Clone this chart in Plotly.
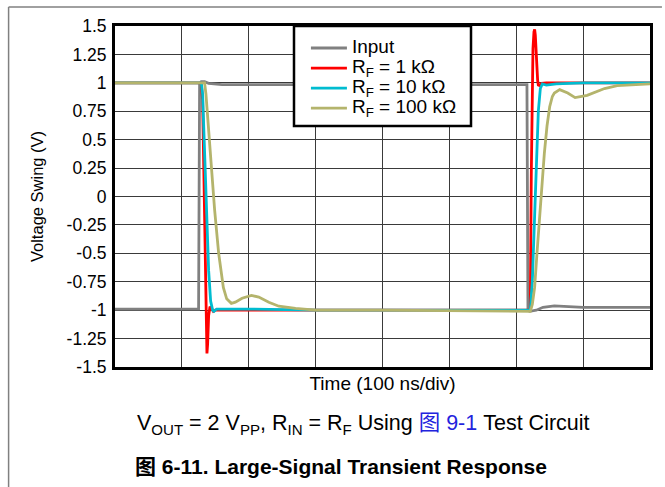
import plotly.graph_objects as go

# ---- data (time in ns, voltage in V) ----
input_t = [0, 125, 126.5, 129, 134, 140, 160, 200, 300, 400, 500, 616, 617.5, 620, 630, 640, 657, 680, 700, 800]
input_v = [-0.99, -0.99, 0.99, 1.01, 1.01, 0.995, 0.985, 0.985, 0.985, 0.985, 0.985, 0.985, -1.0, -1.01, -1.0, -0.975, -0.962, -0.97, -0.975, -0.975]

rf1k_t = [0, 129, 131, 133, 135, 136.5, 137.5, 138.5, 140, 142, 144, 147, 150, 160, 200, 400, 616, 621, 622.5, 623.5, 625, 626.5, 627.5, 628.5, 630, 632, 633, 635, 638, 645, 700, 800]
rf1k_v = [1.0, 1.0, 0.85, 0.2, -0.7, -1.2, -1.38, -1.3, -1.05, -0.97, -0.98, -1.01, -1.0, -1.0, -1.0, -1.0, -1.0, -1.0, 0.2, 1.0, 1.3, 1.45, 1.47, 1.42, 1.2, 1.02, 0.98, 0.975, 0.995, 1.0, 1.0, 1.0]

rf10k_t = [0, 129, 131, 134, 137, 140, 143, 146, 148, 152, 170, 200, 300, 616, 621, 624, 627, 630, 633, 636, 639, 645, 660, 700, 800]
rf10k_v = [1.0, 1.0, 0.9, 0.4, -0.2, -0.65, -0.92, -1.0, -1.01, -0.99, -0.99, -0.99, -1.0, -1.0, -1.0, -0.75, -0.25, 0.3, 0.75, 0.95, 0.99, 0.98, 0.99, 1.0, 1.0]

rf100k_t = [0, 134, 136, 139, 143, 149, 155, 162, 167, 174, 180, 190, 204, 215, 230, 245, 270, 300, 400, 621, 624, 627.5, 631, 635, 638.5, 642, 646, 650, 654, 657, 665, 677, 688, 706, 732, 751, 775, 800]
rf100k_v = [1.0, 1.0, 0.9, 0.65, 0.32, -0.12, -0.5, -0.8, -0.9, -0.94, -0.93, -0.895, -0.87, -0.885, -0.93, -0.965, -0.985, -1.0, -1.0, -1.01, -0.95, -0.8, -0.5, -0.21, 0.1, 0.38, 0.62, 0.79, 0.88, 0.91, 0.94, 0.91, 0.87, 0.89, 0.95, 0.975, 0.985, 0.99]

series_names = ["Input", "R<sub>F</sub> = 1 k\u03a9", "R<sub>F</sub> = 10 k\u03a9", "R<sub>F</sub> = 100 k\u03a9"]
series_colors = ["#808080", "#FF0000", "#00BCD0", "#B4B46C"]

y_tick_vals = [1.5, 1.25, 1, 0.75, 0.5, 0.25, 0, -0.25, -0.5, -0.75, -1, -1.25, -1.5]
y_tick_text = ["1.5", "1.25", "1", "0.75", "0.5", "0.25", "0", "-0.25", "-0.5", "-0.75", "-1", "-1.25", "-1.5"]
x_grid_vals = [0, 100, 200, 300, 400, 500, 600, 700, 800]

FONT = "Liberation Sans, Arial, Noto Sans CJK SC, sans-serif"

fig = go.Figure()
for t, v, name, color in zip([input_t, rf1k_t, rf10k_t, rf100k_t],
                             [input_v, rf1k_v, rf10k_v, rf100k_v],
                             series_names, series_colors):
    fig.add_trace(go.Scatter(x=t, y=v, mode="lines",
                             name="<span style='font-size:19px'>" + name + "</span>",
                             line=dict(color=color, width=2.8)))

W, H = 665, 487
L, R, T, B = 115, 12, 26, 120
pw, ph = W - L - R, H - T - B

def px(x):
    return (x - L) / pw

def py(y):
    return (H - B - y) / ph

fig.update_layout(
    width=W, height=H,
    margin=dict(l=L, r=R, t=T, b=B),
    paper_bgcolor="white", plot_bgcolor="white",
    font=dict(family=FONT, size=16, color="black"),
    showlegend=True,
    legend=dict(x=px(307), y=1 - 7 / ph, xanchor="left", yanchor="top",
                bgcolor="rgba(0,0,0,0)", borderwidth=0,
                font=dict(size=13.1), tracegroupgap=0, itemwidth=36),
    xaxis=dict(range=[0, 800], tickvals=x_grid_vals, showticklabels=False,
               ticks="", showgrid=True, gridcolor="#3a3a3a", gridwidth=1,
               showline=True, mirror=True, linecolor="black", linewidth=3,
               zeroline=False,
               title=dict(text="Time (100 ns/div)", standoff=8,
                          font=dict(size=19))),
    yaxis=dict(range=[-1.5, 1.5], tickvals=y_tick_vals, ticktext=y_tick_text,
               ticks="", showgrid=True, gridcolor="#3a3a3a", gridwidth=1,
               showline=True, mirror=True, linecolor="black", linewidth=3,
               zeroline=False, ticklabelstandoff=2, tickfont=dict(size=17.5),
               title=dict(text="Voltage Swing (V)", standoff=19,
                          font=dict(size=16.5))),
    shapes=[
        dict(type="rect", xref="paper", yref="paper", layer="above",
             x0=px(295), x1=px(473), y0=py(126), y1=1,
             line=dict(color="black", width=2.5), fillcolor="white"),
        dict(type="line", xref="paper", yref="paper",
             x0=px(8), x1=px(665), y0=py(7), y1=py(7),
             line=dict(color="#808080", width=1.5)),
        dict(type="line", xref="paper", yref="paper",
             x0=px(8), x1=px(8), y0=py(7), y1=py(487),
             line=dict(color="#808080", width=1.5)),
    ],
    annotations=[
        dict(xref="paper", yref="paper", x=px(365), y=py(424),
             xanchor="center", yanchor="middle", showarrow=False,
             text="V<sub>OUT</sub> = 2 V<sub>PP</sub>, R<sub>IN</sub> = R<sub>F</sub> Using "
                  "<span style='color:#2222DD'>\u56fe 9-1</span> Test Circuit",
             font=dict(size=21.5, color="black")),
        dict(xref="paper", yref="paper", x=px(342), y=py(466),
             xanchor="center", yanchor="middle", showarrow=False,
             text="<b>\u56fe 6-11. Large-Signal Transient Response</b>",
             font=dict(size=21, color="black")),
    ],
)

fig.write_html("out.html", config={"displayModeBar": False},
               post_script="document.body.style.margin='0';")
